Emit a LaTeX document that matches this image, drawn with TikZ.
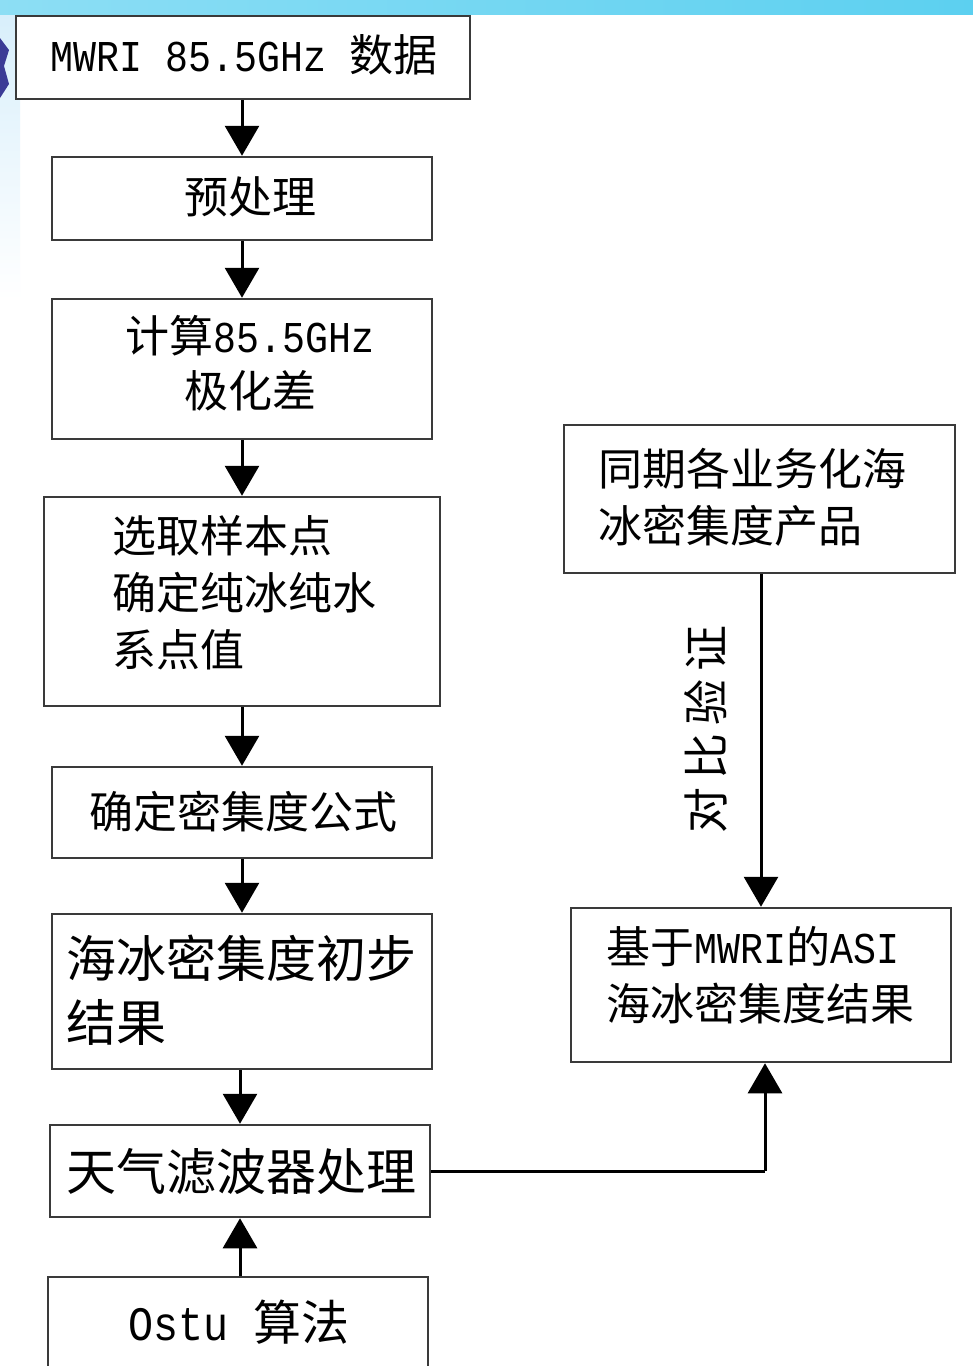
\documentclass[tikz,border=0pt]{standalone}
\usepackage{fontspec}
\usetikzlibrary{arrows.meta}
\newfontfamily\cjkf{Noto Sans CJK SC}
\newfontfamily\latf[FakeStretch=0.87]{Liberation Mono}
\newcommand\cn[1]{{\cjkf #1}}
\newcommand\lt[1]{{\latf #1}}
\definecolor{bordergray}{HTML}{3A3A3A}
\definecolor{topcyan}{HTML}{5CD0F0}
\definecolor{lightblue}{HTML}{D6EEFB}
\definecolor{navy}{HTML}{3B3B96}
\begin{document}
\begin{tikzpicture}[x=1pt,y=-1pt,
  box/.style={draw=bordergray, line width=2.5pt, fill=white, inner sep=0pt},
  txt/.style={inner sep=0pt, align=left, font=\fontsize{44}{57}\selectfont},
  arr/.style={line width=3pt, -{Triangle[width=34pt,length=30pt]}},
  conn/.style={line width=3pt}]
\useasboundingbox (0,0) rectangle (973,1366);
% slide background
\fill[white] (0,0) rectangle (973,1366);
\shade[top color=lightblue, bottom color=white] (0,0) rectangle (20,300);
\shade[left color=topcyan!70, right color=topcyan] (0,0) rectangle (973,14);
\fill[navy] (0,38) -- (9,50) -- (4,66) -- (9,84) -- (0,98) -- cycle;
% left column boxes
\node[box, minimum width=454pt, minimum height=83pt] (b1) at (243,57.5) {};
\node[box, minimum width=380pt, minimum height=83pt] (b2) at (242,198.5) {};
\node[box, minimum width=380pt, minimum height=140pt] (b3) at (242,369) {};
\node[box, minimum width=396pt, minimum height=209pt] (b4) at (242,601.5) {};
\node[box, minimum width=380pt, minimum height=91pt] (b5) at (242,812.5) {};
\node[box, minimum width=380pt, minimum height=155pt] (b6) at (242,991.5) {};
\node[box, minimum width=380pt, minimum height=92pt] (b7) at (240,1171) {};
\node[box, minimum width=380pt, minimum height=120pt] (b8) at (238,1337) {};
% right column boxes
\node[box, minimum width=391pt, minimum height=148pt] (b9) at (759.5,499) {};
\node[box, minimum width=380pt, minimum height=154pt] (b10) at (761,985) {};
% texts
\node[txt] (t1) at (244,55) {\lt{MWRI 85.5GHz }\cn{数据}};
\node[txt] (t2) at (250,197) {\cn{预处理}};
\node[txt, align=center, font=\fontsize{44}{55}\selectfont] (t3) at (250,363) {\cn{计算}\lt{85.5GHz}\\\cn{极化差}};
\node[txt, anchor=west] (t4) at (112,593) {\cn{选取样本点}\\\cn{确定纯冰纯水}\\\cn{系点值}};
\node[txt] (t5) at (243,812) {\cn{确定密集度公式}};
\node[txt, anchor=west, font=\fontsize{50}{64}\selectfont] (t6) at (66,990) {\cn{海冰密集度初步}\\\cn{结果}};
\node[txt, anchor=west, font=\fontsize{50}{64}\selectfont] (t7) at (66,1172) {\cn{天气滤波器处理}};
\node[txt, font=\fontsize{48}{60}\selectfont] (t8) at (239,1322) {\lt{Ostu }\cn{算法}};
\node[txt, anchor=west] (t9) at (598,497) {\cn{同期各业务化海}\\\cn{冰密集度产品}};
\node[txt, anchor=west] (t10) at (606,975) {\cn{基于}\lt{MWRI}\cn{的}\lt{ASI}\\\cn{海冰密集度结果}};
\node[txt, rotate=90, font=\fontsize{46}{50}\selectfont] (lab) at (706,729) {\cn{对\hspace{8pt}比\hspace{8pt}验\hspace{8pt}证}};
% connectors
\draw[arr] (b1.south -| b2.north) -- (b2.north);
\draw[arr] (b2.south) -- (b3.north);
\draw[arr] (b3.south) -- (b4.north);
\draw[arr] (b4.south) -- (b5.north);
\draw[arr] (b5.south) -- (b6.north);
\draw[arr] (b6.south -| b7.north) -- (b7.north);
\draw[arr] (b8.north -| b7.south) -- (b7.south);
\draw[arr] (b9.south -| b10.north) -- (b10.north);
\coordinate (c1) at (765,1171);
\draw[conn] (b7.east) -- (c1);
\draw[arr] (c1) -- (c1 |- b10.south);
\end{tikzpicture}
\end{document}
